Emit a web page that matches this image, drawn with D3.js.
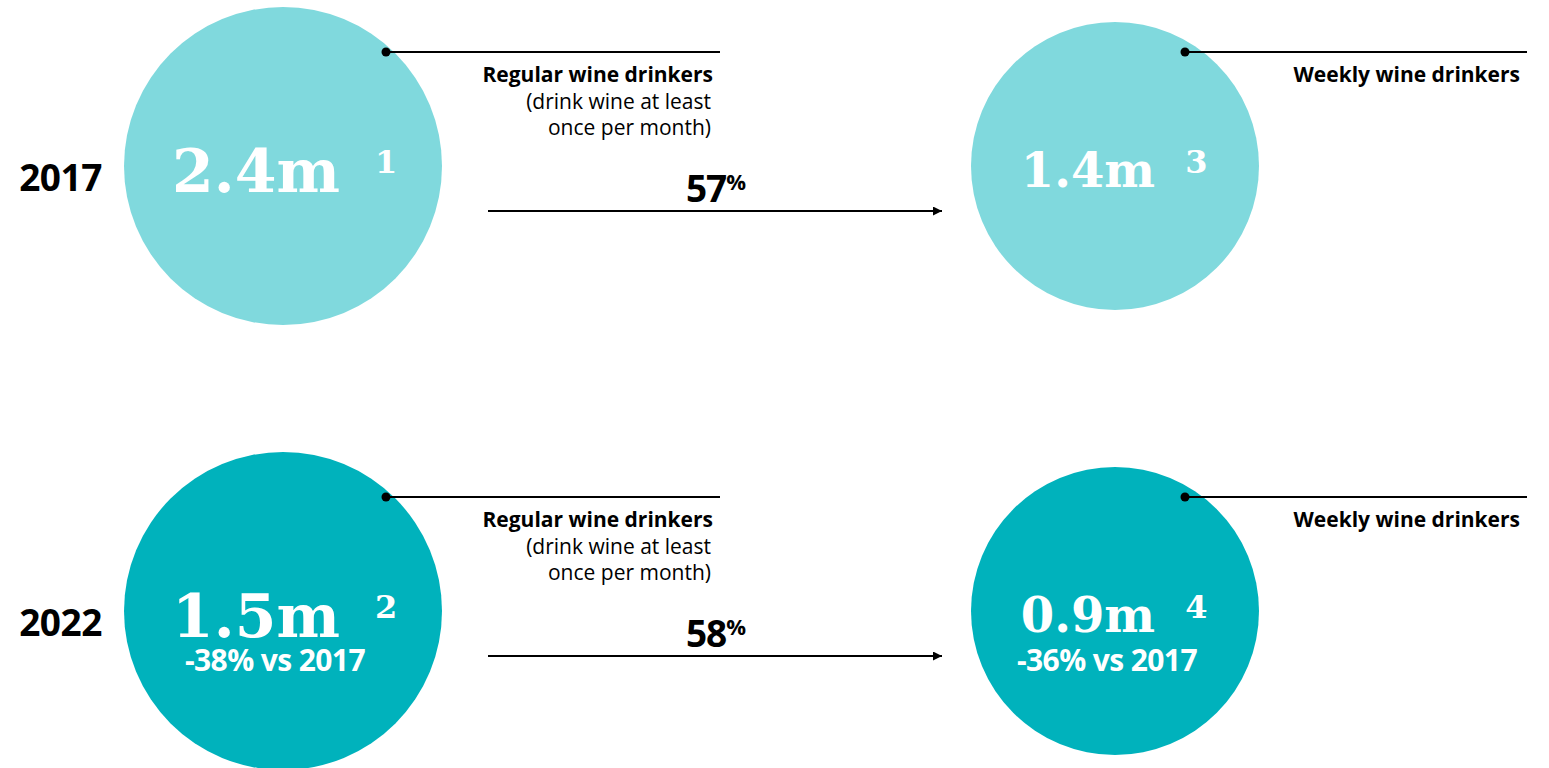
<!DOCTYPE html>
<html>
<head>
<meta charset="utf-8">
<script src="https://cdn.jsdelivr.net/npm/d3@7/dist/d3.min.js"></script>
<style>
  html, body { margin: 0; padding: 0; background: #ffffff; }
  svg { display: block; }
</style>
</head>
<body>
<svg id="chart" width="1549" height="768"></svg>
<script>
// Wine drinker funnel, 2017 vs 2022
const years = ["2017", "2022"];
const stages = ["regular", "weekly"];
const regularDrinkers = [2.4, 1.5];      // millions
const weeklyDrinkers = [1.4, 0.9];       // millions
const conversionPct = [57, 58];          // weekly as % of regular
const regularNotes = ["1", "2"];
const weeklyNotes = ["3", "4"];
const regularChange = [null, "-38% vs 2017"];
const weeklyChange = [null, "-36% vs 2017"];
const stageTitles = ["Regular wine drinkers", "Weekly wine drinkers"];
const stageSubtitles = [["(drink wine at least", "once per month)"], []];

const svg = d3.select("#chart");
const sans = "'Open Sans', 'Noto Sans', sans-serif";
const serif = "'DejaVu Serif', 'Liberation Serif', serif";

const yRow = d3.scalePoint().domain(years).range([166, 611]);
const xCol = d3.scalePoint().domain(stages).range([283, 1115]);
const radius = d3.scaleOrdinal().domain(stages).range([159, 144]);
const fill = d3.scaleOrdinal().domain(years).range(["#80d9dd", "#00b2bc"]);
const numSize = d3.scaleOrdinal().domain(stages).range([60, 48]);
const numOffset = d3.scaleOrdinal().domain(stages).range([26, 21]);
const dotDx = d3.scaleOrdinal().domain(stages).range([103, 70]);
const lineEnd = d3.scaleOrdinal().domain(stages).range([720, 1527]);

const cells = [];
years.forEach((yr, i) => {
  cells.push({ year: yr, stage: "regular", value: regularDrinkers[i], note: regularNotes[i], change: regularChange[i], idx: 0 });
  cells.push({ year: yr, stage: "weekly", value: weeklyDrinkers[i], note: weeklyNotes[i], change: weeklyChange[i], idx: 1 });
});

// arrowhead
svg.append("defs").append("marker")
  .attr("id", "arrow")
  .attr("viewBox", "0 0 10 10")
  .attr("refX", 10).attr("refY", 5)
  .attr("markerWidth", 4.5).attr("markerHeight", 4.5)
  .attr("markerUnits", "strokeWidth")
  .attr("orient", "auto")
  .append("path").attr("d", "M0,0L10,5L0,10Z").attr("fill", "#000");

const g = svg.selectAll("g.cell").data(cells).join("g").attr("class", "cell");

g.append("circle")
  .attr("cx", d => xCol(d.stage))
  .attr("cy", d => yRow(d.year))
  .attr("r", d => radius(d.stage))
  .attr("fill", d => fill(d.year));

// leader line and dot
g.append("line")
  .attr("x1", d => xCol(d.stage) + dotDx(d.stage))
  .attr("x2", d => lineEnd(d.stage))
  .attr("y1", d => yRow(d.year) - 114)
  .attr("y2", d => yRow(d.year) - 114)
  .attr("stroke", "#000").attr("stroke-width", 2);
g.append("circle")
  .attr("cx", d => xCol(d.stage) + dotDx(d.stage))
  .attr("cy", d => yRow(d.year) - 114)
  .attr("r", 4.5).attr("fill", "#000");

// stage title + subtitle
const lbl = g.append("text")
  .attr("class", "stage")
  .attr("text-anchor", "end")
  .attr("font-family", sans)
  .attr("font-size", 21)
  .attr("fill", "#000");
lbl.append("tspan")
  .attr("x", d => lineEnd(d.stage) - 7)
  .attr("y", d => yRow(d.year) - 84)
  .attr("font-weight", 700)
  .text(d => stageTitles[d.idx]);
lbl.each(function(d) {
  stageSubtitles[d.idx].forEach((s, k) => {
    d3.select(this).append("tspan")
      .attr("x", lineEnd(d.stage) - 9)
      .attr("y", yRow(d.year) - 84 + 26.5 * (k + 1))
      .attr("font-weight", 400)
      .text(s);
  });
});

// big value
g.append("text")
  .attr("class", "value")
  .attr("x", d => xCol(d.stage) - 27)
  .attr("y", d => yRow(d.year) + numOffset(d.stage))
  .attr("text-anchor", "middle")
  .attr("font-family", serif)
  .attr("font-weight", 700)
  .attr("font-size", d => numSize(d.stage))
  .attr("fill", "#fff")
  .text(d => d3.format(".1f")(d.value) + "m");

// footnote marker after the value
g.append("text")
  .attr("x", function(d) {
    const w = d3.select(this.parentNode).select("text.value").node().getComputedTextLength();
    return xCol(d.stage) - 27 + w / 2 + (d.stage === "regular" ? 35 : 30);
  })
  .attr("y", d => yRow(d.year) + 7)
  .attr("font-family", serif)
  .attr("font-weight", 700)
  .attr("font-size", 32)
  .attr("fill", "#fff")
  .text(d => d.note);

// change vs 2017
g.filter(d => d.change).append("text")
  .attr("x", d => xCol(d.stage) - 8)
  .attr("y", d => yRow(d.year) + 60)
  .attr("text-anchor", "middle")
  .attr("font-family", sans)
  .attr("font-weight", 700)
  .attr("font-size", 30)
  .attr("letter-spacing", -0.6)
  .attr("fill", "#fff")
  .text(d => d.change);

// year labels
svg.selectAll("text.year").data(years).join("text")
  .attr("class", "year")
  .attr("x", 60.5)
  .attr("y", d => yRow(d) + 25)
  .attr("text-anchor", "middle")
  .attr("font-family", sans)
  .attr("font-weight", 700)
  .attr("font-size", 37)
  .attr("letter-spacing", -0.5)
  .attr("fill", "#000")
  .text(d => d);

// conversion arrows
const conv = svg.selectAll("g.conv").data(years.map((y, i) => ({ year: y, pct: conversionPct[i] })))
  .join("g").attr("class", "conv");
conv.append("line")
  .attr("x1", 488).attr("x2", 942)
  .attr("y1", d => yRow(d.year) + 45)
  .attr("y2", d => yRow(d.year) + 45)
  .attr("stroke", "#000").attr("stroke-width", 2)
  .attr("marker-end", "url(#arrow)");
const ct = conv.append("text")
  .attr("x", 716)
  .attr("y", d => yRow(d.year) + 36)
  .attr("text-anchor", "middle")
  .attr("font-family", sans)
  .attr("font-weight", 700)
  .attr("fill", "#000");
ct.append("tspan").attr("font-size", 37).attr("letter-spacing", -1).text(d => d.pct);
ct.append("tspan").attr("font-size", 22).attr("dy", -12).text("%");
</script>
</body>
</html>
